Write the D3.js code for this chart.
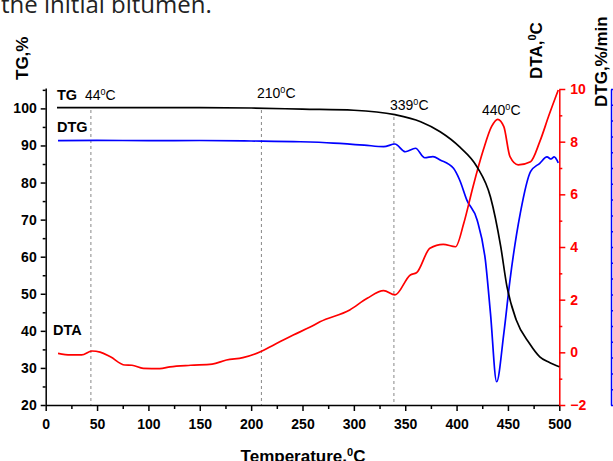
<!DOCTYPE html>
<html lang="en">
<head>
<meta charset="UTF-8">
<title>TG / DTG / DTA</title>
<script src="https://d3js.org/d3.v7.min.js"></script>
<style>
    body { margin: 0; background: #fff; }
    svg { font-family: "Liberation Sans", Arial, sans-serif; display: block; }
    .tick text { font-weight: bold; font-size: 14px; }
</style>
</head>
<body>
<div id="chart"></div>
<script>
    // TG curve (%, left axis)
    var tgT = [11, 50, 100, 150, 200, 250, 300, 340, 365, 384, 403, 420, 433, 443, 449, 458, 471, 481, 490, 500];
    var tgV = [100.2, 100.2, 100.2, 100.2, 100.1, 99.8, 99.5, 98.3, 96.4, 93.7, 89.6, 84.2, 76.1, 62.7, 52, 43, 36.6, 33, 31.5, 30.3];

    // DTA curve (degC, red axis)
    var dtaT = [12, 24, 35, 45, 53, 63, 77, 84, 95, 111, 121, 141, 162, 176, 192, 209, 222, 241, 257, 267, 296, 313, 329, 340, 355, 361, 374, 387, 399, 407, 416, 426, 434, 440, 446, 452, 460, 472, 481, 490, 499];
    var dtaV = [-0.04, -0.10, -0.10, 0.05, 0.01, -0.17, -0.48, -0.49, -0.61, -0.62, -0.55, -0.49, -0.45, -0.29, -0.20, 0.02, 0.28, 0.66, 0.95, 1.16, 1.61, 2.05, 2.34, 2.18, 2.94, 3.02, 3.95, 4.10, 4.01, 4.90, 6.29, 7.68, 8.57, 8.85, 8.57, 7.43, 7.12, 7.24, 8.0, 9.01, 9.96];

    // DTG curve (%/min, blue axis)
    var dtgT = [12, 50, 100, 150, 200, 248, 280, 310, 329, 340, 350, 360, 369, 377, 384, 397, 403, 410, 420, 428, 433, 439, 446, 452, 462, 472, 481, 488, 492, 495, 499];
    var dtgV = [-0.27, -0.25, -0.27, -0.26, -0.29, -0.34, -0.42, -0.55, -0.65, -0.48, -0.97, -0.75, -1.35, -1.28, -1.49, -2.02, -2.76, -4.03, -5.29, -7.82, -11.2, -15.53, -12.46, -9.09, -4.87, -2.23, -1.70, -1.30, -1.43, -1.30, -1.68];

    // marked temperatures
    var marks = [44, 210, 339];
    var peakLabels = [
        {t: "44", x: 85, y: 100},
        {t: "210", x: 257, y: 98},
        {t: "339", x: 390, y: 110},
        {t: "440", x: 482, y: 115}
    ];

    var width = 613, height = 461;
    var svg = d3.select("#chart").append("svg")
        .attr("width", width)
        .attr("height", height);

    var x = d3.scaleLinear().domain([0, 500]).range([45.7, 559.3]);
    var yTG = d3.scaleLinear().domain([20, 105.5]).range([405, 88]);
    var yDTA = d3.scaleLinear().domain([-2, 10]).range([405, 89]);
    var yDTG = d3.scaleLinear().domain([-17, 3]).range([405, 89]);

    // cropped caption text at the very top
    svg.append("text")
        .attr("x", 1).attr("y", 13)
        .style("font-family", "'Open Sans', sans-serif")
        .style("font-size", "24px")
        .style("fill", "#222")
        .text("the initial bitumen.");

    // dashed markers
    svg.selectAll(".mark")
        .data(marks).enter()
        .append("line")
        .attr("x1", function(d) { return x(d); })
        .attr("x2", function(d) { return x(d); })
        .attr("y1", function(d, i) { return [110, 110, 117][i]; })
        .attr("y2", 405)
        .style("stroke", "#888")
        .style("stroke-width", 1)
        .style("stroke-dasharray", "3,3");

    // axes
    function styleAxis(g, color) {
        g.select(".domain").style("stroke", color).style("stroke-width", 1.5);
        g.selectAll(".tick line").style("stroke", color).style("stroke-width", 1.5);
        g.selectAll(".tick text").style("fill", color);
    }

    var gx = svg.append("g").attr("transform", "translate(0,405)")
        .call(d3.axisBottom(x).tickValues(d3.range(0, 501, 50)).tickSize(6).tickSizeOuter(0).tickPadding(8));
    styleAxis(gx, "#000");
    var gxm = svg.append("g").attr("transform", "translate(0,405)")
        .call(d3.axisBottom(x).tickValues(d3.range(25, 500, 50)).tickSize(4).tickFormat(""));
    styleAxis(gxm, "#000");
    gxm.select(".domain").remove();

    var gl = svg.append("g").attr("transform", "translate(45.7,0)")
        .call(d3.axisLeft(yTG).tickValues(d3.range(20, 101, 10)).tickSize(5).tickSizeOuter(0).tickPadding(4));
    styleAxis(gl, "#000");
    var glm = svg.append("g").attr("transform", "translate(45.7,0)")
        .call(d3.axisLeft(yTG).tickValues(d3.range(25, 106, 10)).tickSize(3).tickFormat(""));
    styleAxis(glm, "#000");
    glm.select(".domain").remove();

    var gr = svg.append("g").attr("transform", "translate(559.3,0)")
        .call(d3.axisRight(yDTA).tickValues(d3.range(-2, 11, 2)).tickSize(6).tickSizeOuter(0).tickPadding(5));
    styleAxis(gr, "#ff0000");
    var grm = svg.append("g").attr("transform", "translate(559.3,0)")
        .call(d3.axisRight(yDTA).tickValues(d3.range(-1, 10, 2)).tickSize(3).tickFormat(""));
    styleAxis(grm, "#ff0000");
    grm.select(".domain").remove();

    // DTG axis sits at the cropped right edge; its labels fall outside the picture
    var gb = svg.append("g").attr("transform", "translate(611,0)")
        .call(d3.axisRight(yDTG).ticks(20).tickSize(5).tickSizeOuter(0).tickFormat(""));
    styleAxis(gb, "#0000ff");

    // curves
    function curve(ts, vs, y, color) {
        var pts = ts.map(function(t, i) { return [x(t), y(vs[i])]; });
        svg.append("path")
            .attr("d", d3.line().curve(d3.curveMonotoneX)(pts))
            .style("fill", "none")
            .style("stroke", color)
            .style("stroke-width", 1.7);
    }
    curve(dtgT, dtgV, yDTG, "#0000ff");
    curve(dtaT, dtaV, yDTA, "#ff0000");
    curve(tgT, tgV, yTG, "#000000");

    // curve names
    var names = [{t: "TG", x: 57, y: 100}, {t: "DTG", x: 57, y: 132}, {t: "DTA", x: 53, y: 335}];
    svg.selectAll(".name")
        .data(names).enter()
        .append("text")
        .attr("x", function(d) { return d.x; })
        .attr("y", function(d) { return d.y; })
        .style("font-weight", "bold")
        .style("font-size", "14.5px")
        .text(function(d) { return d.t; });

    // temperature labels with superscript 0
    var pl = svg.selectAll(".peak")
        .data(peakLabels).enter()
        .append("text")
        .attr("x", function(d) { return d.x; })
        .attr("y", function(d) { return d.y; })
        .style("font-size", "14px");
    pl.append("tspan").text(function(d) { return d.t; });
    pl.append("tspan").attr("dy", -5).style("font-size", "9px").text("0");
    pl.append("tspan").attr("dy", 5).text("C");

    // axis titles
    var t1 = svg.append("text")
        .attr("transform", "translate(28,80) rotate(-90)")
        .style("font-weight", "bold").style("font-size", "17px");
    t1.text("TG,%");

    var t2 = svg.append("text")
        .attr("transform", "translate(542,79) rotate(-90)")
        .style("font-weight", "bold").style("font-size", "17px");
    t2.append("tspan").text("DTA,");
    t2.append("tspan").attr("dy", -6).style("font-size", "11px").text("0");
    t2.append("tspan").attr("dy", 6).text("C");

    svg.append("text")
        .attr("transform", "translate(607,107) rotate(-90)")
        .style("font-weight", "bold").style("font-size", "17px")
        .text("DTG,%/min");

    var t4 = svg.append("text")
        .attr("x", 303).attr("y", 462)
        .attr("text-anchor", "middle")
        .style("font-weight", "bold").style("font-size", "17px");
    t4.append("tspan").text("Temperature,");
    t4.append("tspan").attr("dy", -6).style("font-size", "11px").text("0");
    t4.append("tspan").attr("dy", 6).text("C");
</script>
</body>
</html>
